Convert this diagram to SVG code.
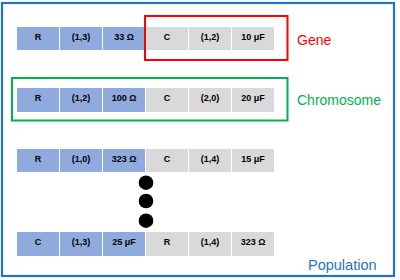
<svg xmlns="http://www.w3.org/2000/svg" width="400" height="280" viewBox="0 0 400 280">
<style>
.b{fill:#8FAADC}
.g{fill:#D9D9D9}
.t{font-family:"Liberation Sans",Arial,sans-serif;font-weight:bold;font-size:9px;text-anchor:middle;fill:#000}
.lbl{font-family:"Liberation Sans",Arial,sans-serif;font-size:14px}
</style>
<rect x="2" y="3" width="392" height="273" fill="#fff" stroke="#1F74C8" stroke-width="2.2"/>
<g id="row1">
<rect class="b" x="17" y="27" width="42" height="23"/><text class="t" x="38" y="39.5">R</text>
<rect class="b" x="60" y="27" width="42" height="23"/><text class="t" x="81" y="39.5">(1,3)</text>
<rect class="b" x="103" y="27" width="42" height="23"/><text class="t" x="124" y="39.5">33 Ω</text>
<rect class="g" x="146" y="27" width="42" height="23"/><text class="t" x="167" y="39.5">C</text>
<rect class="g" x="189" y="27" width="42" height="23"/><text class="t" x="210" y="39.5">(1,2)</text>
<rect class="g" x="232" y="27" width="42" height="23"/><text class="t" x="253" y="39.5">10 μF</text>
</g>
<g id="row2">
<rect class="b" x="17" y="88" width="42" height="24"/><text class="t" x="38" y="100.5">R</text>
<rect class="b" x="60" y="88" width="42" height="24"/><text class="t" x="81" y="100.5">(1,2)</text>
<rect class="b" x="103" y="88" width="42" height="24"/><text class="t" x="124" y="100.5">100 Ω</text>
<rect class="g" x="146" y="88" width="42" height="24"/><text class="t" x="167" y="100.5">C</text>
<rect class="g" x="189" y="88" width="42" height="24"/><text class="t" x="210" y="100.5">(2,0)</text>
<rect class="g" x="232" y="88" width="42" height="24"/><text class="t" x="253" y="100.5">20 μF</text>
</g>
<g id="row3">
<rect class="b" x="17" y="149" width="42" height="23"/><text class="t" x="38" y="161.5">R</text>
<rect class="b" x="60" y="149" width="42" height="23"/><text class="t" x="81" y="161.5">(1,0)</text>
<rect class="b" x="103" y="149" width="42" height="23"/><text class="t" x="124" y="161.5">323 Ω</text>
<rect class="g" x="146" y="149" width="42" height="23"/><text class="t" x="167" y="161.5">C</text>
<rect class="g" x="189" y="149" width="42" height="23"/><text class="t" x="210" y="161.5">(1,4)</text>
<rect class="g" x="232" y="149" width="42" height="23"/><text class="t" x="253" y="161.5">15 μF</text>
</g>
<g id="dots">
<circle cx="146" cy="182.7" r="7.3" fill="#000"/>
<circle cx="146" cy="201" r="7.3" fill="#000"/>
<circle cx="146" cy="220.7" r="7.3" fill="#000"/>
</g>
<g id="row4">
<rect class="b" x="17" y="232" width="42" height="24"/><text class="t" x="38" y="244.5">C</text>
<rect class="b" x="60" y="232" width="42" height="24"/><text class="t" x="81" y="244.5">(1,3)</text>
<rect class="b" x="103" y="232" width="42" height="24"/><text class="t" x="124" y="244.5">25 μF</text>
<rect class="g" x="146" y="232" width="42" height="24"/><text class="t" x="167" y="244.5">R</text>
<rect class="g" x="189" y="232" width="42" height="24"/><text class="t" x="210" y="244.5">(1,4)</text>
<rect class="g" x="232" y="232" width="42" height="24"/><text class="t" x="253" y="244.5">323 Ω</text>
</g>
<g id="gene">
<rect x="145" y="16" width="142.5" height="44" fill="none" stroke="#FF0000" stroke-width="2"/>
<text class="lbl" x="297" y="45" fill="#FF0000">Gene</text>
</g>
<g id="chromosome">
<rect x="12" y="78" width="275.5" height="42.5" fill="none" stroke="#00B050" stroke-width="2"/>
<text class="lbl" x="297" y="105" fill="#00B050">Chromosome</text>
</g>
<text id="population" class="lbl" x="308" y="270" fill="#1F74C8" style="font-size:14.5px">Population</text>
</svg>
